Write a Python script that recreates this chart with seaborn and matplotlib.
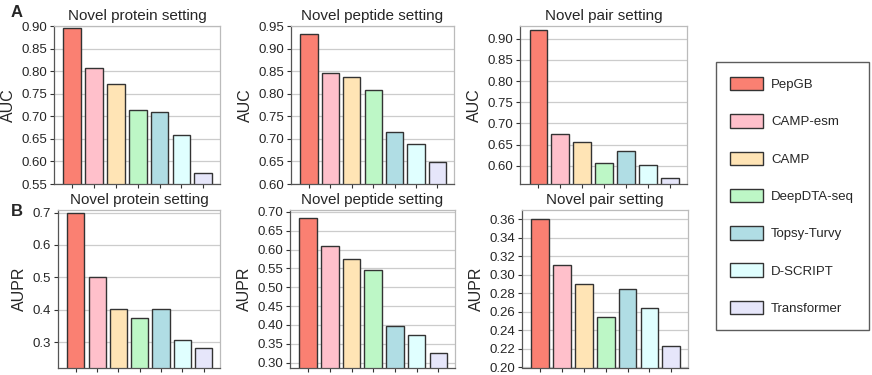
import matplotlib
matplotlib.use("Agg")
import matplotlib.pyplot as plt
import numpy as np
import pandas as pd
import seaborn as sns
from matplotlib.patches import Patch

# 方法名与配色
methods = ["PepGB", "CAMP-esm", "CAMP", "DeepDTA-seq", "Topsy-Turvy", "D-SCRIPT", "Transformer"]
colors = ["#FA8072", "#FFC0CB", "#FFE4B5", "#BDF7C6", "#B0DDE4", "#E0FFFF", "#E6E6FA"]

# 各设置下的 AUC / AUPR
auc_protein = [0.895, 0.807, 0.772, 0.713, 0.710, 0.658, 0.574]
auc_peptide = [0.933, 0.847, 0.836, 0.809, 0.715, 0.688, 0.648]
auc_pair = [0.921, 0.676, 0.656, 0.606, 0.634, 0.601, 0.571]
aupr_protein = [0.698, 0.502, 0.402, 0.376, 0.402, 0.307, 0.282]
aupr_peptide = [0.684, 0.610, 0.576, 0.545, 0.396, 0.372, 0.325]
aupr_pair = [0.360, 0.311, 0.290, 0.255, 0.285, 0.264, 0.223]

titles = ["Novel protein setting", "Novel peptide setting", "Novel pair setting"]

panels = [
    # (values, ylabel, title, ylim, yticks, fmt, axes rect)
    (auc_protein, "AUC", titles[0], (0.55, 0.90), np.arange(0.55, 0.901, 0.05), "{:.2f}", [0.0619, 0.5093, 0.1904, 0.4213]),
    (auc_peptide, "AUC", titles[1], (0.60, 0.95), np.arange(0.60, 0.951, 0.05), "{:.2f}", [0.3337, 0.5093, 0.1869, 0.4213]),
    (auc_pair, "AUC", titles[2], (0.557, 0.93), np.arange(0.60, 0.901, 0.05), "{:.2f}", [0.5963, 0.5093, 0.1915, 0.4213]),
    (aupr_protein, "AUPR", titles[0], (0.222, 0.708), np.arange(0.3, 0.701, 0.1), "{:.1f}", [0.0665, 0.02, 0.1858, 0.42]),
    (aupr_peptide, "AUPR", titles[1], (0.287, 0.705), np.arange(0.30, 0.701, 0.05), "{:.2f}", [0.3326, 0.02, 0.1892, 0.42]),
    (aupr_pair, "AUPR", titles[2], (0.20, 0.37), np.arange(0.20, 0.361, 0.02), "{:.2f}", [0.5986, 0.02, 0.1904, 0.42]),
]

sns.set_theme(style="white")
plt.rcParams["font.family"] = ["Liberation Sans", "DejaVu Sans"]

fig = plt.figure(figsize=(8.72, 3.75), dpi=100)

for values, ylabel, title, ylim, yticks, fmt, rect in panels:
    ax = fig.add_axes(rect)
    df = pd.DataFrame({"method": methods, "value": values})
    sns.barplot(
        data=df, x="method", y="value", hue="method", order=methods,
        hue_order=methods, palette=colors, saturation=1, legend=False, width=0.81,
        edgecolor="#333333", linewidth=1.0, ax=ax,
    )
    ax.set_ylim(*ylim)
    ax.set_xlim(-0.84, 6.77)
    ax.set_yticks(yticks)
    ax.set_yticklabels([fmt.format(v) for v in yticks], fontsize=9.5)
    ax.set_xticks(range(len(methods)))
    ax.set_xticklabels([])
    ax.set_xlabel("")
    ax.set_ylabel(ylabel, fontsize=11.5, labelpad=4)
    ax.set_title(title, fontsize=11, pad=4)
    ax.grid(axis="y", color="#cccccc", linewidth=0.9)
    ax.set_axisbelow(True)
    ax.tick_params(axis="both", length=3, width=0.8, color="#333333", pad=2, direction="out", bottom=True, left=True)
    for side in ["top", "right"]:
        ax.spines[side].set_color("#bbbbbb")
        ax.spines[side].set_linewidth(0.9)
    for side in ["left", "bottom"]:
        ax.spines[side].set_color("#555555")
        ax.spines[side].set_linewidth(0.9)

fig.text(0.012, 0.955, "A", fontsize=12, fontweight="bold")
fig.text(0.012, 0.425, "B", fontsize=12, fontweight="bold")

handles = [Patch(facecolor=c, edgecolor="#333333", linewidth=1.0, label=m) for m, c in zip(methods, colors)]
leg = fig.legend(
    handles=handles, loc="center", bbox_to_anchor=(0.828, 0.12, 0.1606, 0.7147),
    fontsize=9.5, frameon=True, fancybox=False, labelspacing=1.75,
    handlelength=2.5, handleheight=1.2, handletextpad=0.6, borderpad=1.1,
)
leg.get_frame().set_edgecolor("#333333")
leg.get_frame().set_linewidth(1.0)

fig.savefig("out.png", dpi=100)
